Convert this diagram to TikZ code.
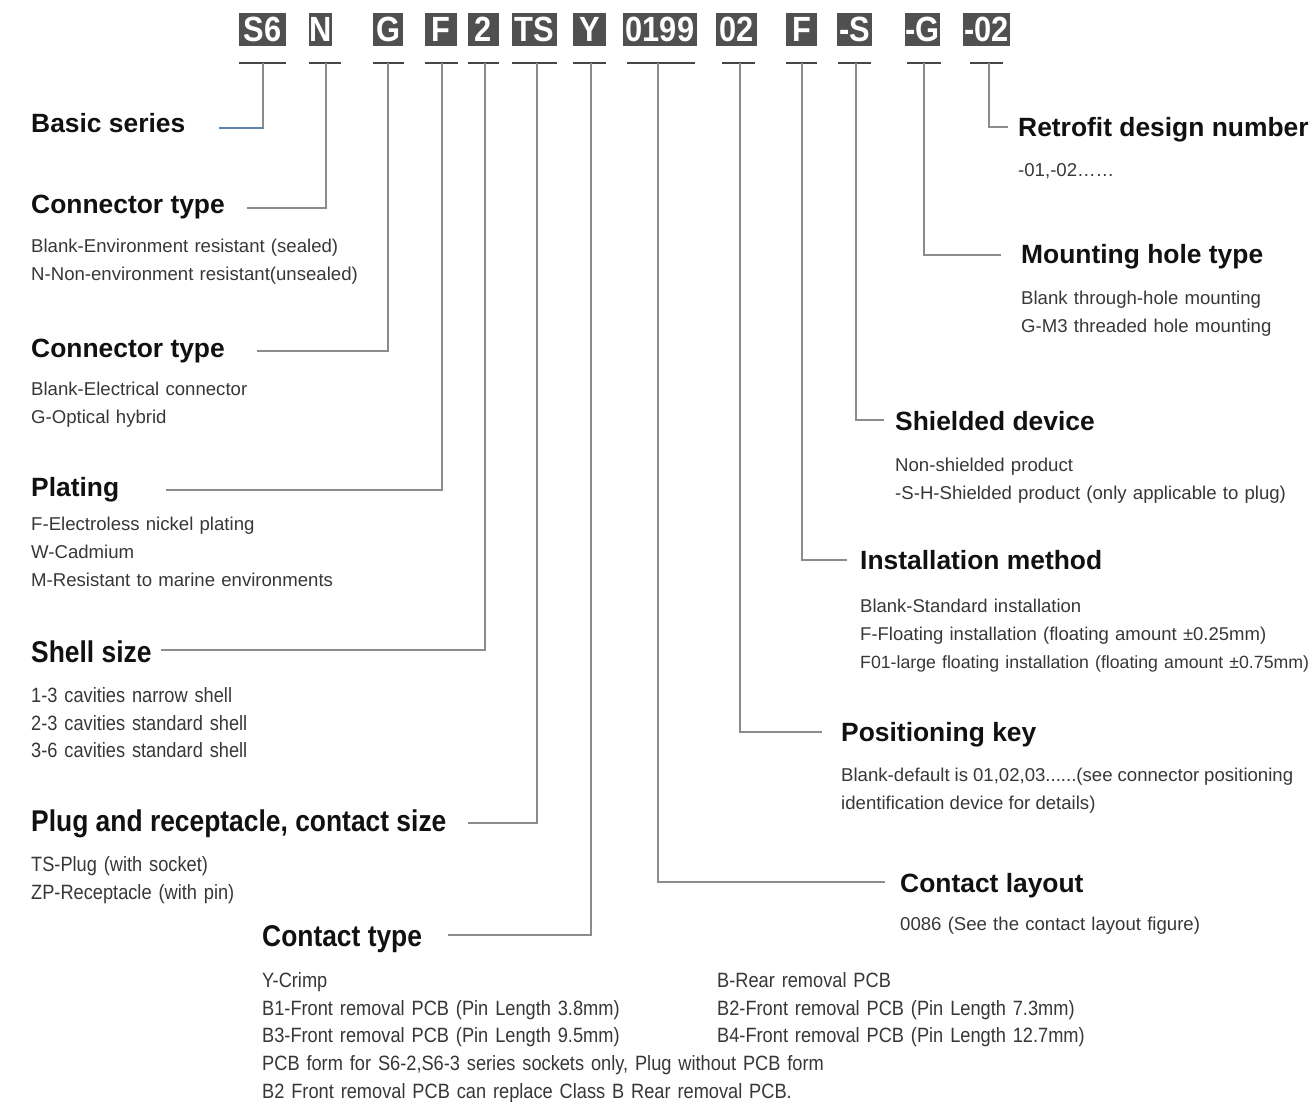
\documentclass[tikz,border=0pt]{standalone}
\usepackage{fontspec}
\setmainfont{Liberation Sans}
\newfontfamily\narrowfont[FakeStretch=0.88]{Liberation Sans}
\usepackage{tikz}
\definecolor{boxgray}{RGB}{80,80,80}
\definecolor{bargray}{RGB}{70,70,70}
\definecolor{leadgray}{RGB}{140,140,140}
\definecolor{leadblue}{RGB}{95,128,180}
\definecolor{headblack}{RGB}{17,17,17}
\definecolor{descgray}{RGB}{55,55,55}
\tikzset{
  codebox/.style={fill=boxgray, text=white, inner sep=0pt, minimum height=33pt,
    font=\narrowfont\bfseries\fontsize{35}{35}\selectfont},
  head/.style={anchor=base west, inner sep=0pt, text=headblack,
    font=\bfseries\fontsize{26.4}{30}\selectfont},
  headn/.style={head, font=\narrowfont\bfseries\fontsize{30}{30}\selectfont},
  desc/.style={anchor=base west, inner sep=0pt, text width=520pt, align=left, text=descgray,
    font=\fontsize{18.6}{28}\selectfont},
  descn/.style={desc, font=\narrowfont\fontsize{20.7}{27.7}\selectfont},
  lead/.style={draw=leadgray, line width=1.4pt},
  bar/.style={draw=bargray, line width=1.4pt}
}

\begin{document}
\begin{tikzpicture}[x=1pt, y=-1pt]
    \useasboundingbox (0,0) rectangle (1315,1102);

    % part number code boxes
    \node[codebox, minimum width=47pt] (s6)   at (262.5,29.5) {S6};
    \node[codebox, minimum width=23pt] (n)    at (320.5,29.5) {N};
    \node[codebox, minimum width=30pt] (g)    at (388,29.5)   {G};
    \node[codebox, minimum width=32pt] (f)    at (441,29.5)   {F};
    \node[codebox, minimum width=31pt] (two)  at (483.5,29.5) {2};
    \node[codebox, minimum width=45pt] (ts)   at (534.5,29.5) {TS};
    \node[codebox, minimum width=33pt] (y)    at (589.5,29.5) {Y};
    \node[codebox, minimum width=74pt] (lay)  at (660,29.5)   {0199};
    \node[codebox, minimum width=41pt] (key)  at (736.5,29.5) {02};
    \node[codebox, minimum width=31pt] (inst) at (801.5,29.5) {F};
    \node[codebox, minimum width=35pt] (shd)  at (854.5,29.5) {-S};
    \node[codebox, minimum width=35pt] (hole) at (922.5,29.5) {-G};
    \node[codebox, minimum width=47pt] (ret)  at (986.5,29.5) {-02};

    % bars under the boxes
    \draw[bar] (239,63) -- (286,63);
    \draw[bar] (309,63) -- (341,63);
    \draw[bar] (373,63) -- (404,63);
    \draw[bar] (425,63) -- (458,63);
    \draw[bar] (468,63) -- (499,63);
    \draw[bar] (512,63) -- (557,63);
    \draw[bar] (573,63) -- (606,63);
    \draw[bar] (627,63) -- (695,63);
    \draw[bar] (722,63) -- (755,63);
    \draw[bar] (786,63) -- (817,63);
    \draw[bar] (838,63) -- (871,63);
    \draw[bar] (907,63) -- (941,63);
    \draw[bar] (970,63) -- (1003,63);

    \coordinate (t-s6)   at (263,63);
    \coordinate (t-n)    at (326,63);
    \coordinate (t-g)    at (388,63);
    \coordinate (t-f)    at (442,63);
    \coordinate (t-two)  at (485,63);
    \coordinate (t-ts)   at (537,63);
    \coordinate (t-y)    at (591,63);
    \coordinate (t-lay)  at (658,63);
    \coordinate (t-key)  at (740,63);
    \coordinate (t-inst) at (802,63);
    \coordinate (t-shd)  at (856,63);
    \coordinate (t-hole) at (924,63);
    \coordinate (t-ret)  at (989,63);

    % left column
    \node[head] (basic) at (31,133) {Basic series};
    \node[head] (ctype) at (31,214) {Connector type};
    \node[desc] (ctyped) at (31,252.5) {Blank-Environment resistant (sealed)\\N-Non-environment resistant(unsealed)};
    \node[head] (cform) at (31,357) {Connector type};
    \node[desc] (cformd) at (31,395.5) {Blank-Electrical connector\\G-Optical hybrid};
    \node[head] (plating) at (31,496) {Plating};
    \node[desc] (platingd) at (31,530.5) {F-Electroless nickel plating\\W-Cadmium\\M-Resistant to marine environments};
    \node[headn] (shell) at (31,662) {Shell size};
    \node[descn] (shelld) at (31,702.5) {1-3 cavities narrow shell\\2-3 cavities standard shell\\3-6 cavities standard shell};
    \node[headn] (plug) at (31,831) {Plug and receptacle, contact size};
    \node[descn] (plugd) at (31,871.5) {TS-Plug (with socket)\\ZP-Receptacle (with pin)};
    \node[headn] (contact) at (262,946) {Contact type};
    \node[descn, text width=800pt] (contactd) at (262,987.5) {Y-Crimp\\B1-Front removal PCB (Pin Length 3.8mm)\\B3-Front removal PCB (Pin Length 9.5mm)\\PCB form for S6-2,S6-3 series sockets only, Plug without PCB form\\B2 Front removal PCB can replace Class B Rear removal PCB.};
    \node[descn] (contacte) at (717,987.5) {B-Rear removal PCB\\B2-Front removal PCB (Pin Length 7.3mm)\\B4-Front removal PCB (Pin Length 12.7mm)};

    % right column
    \node[head] (retro) at (1018,137) {Retrofit design number};
    \node[desc] (retrod) at (1018,176.5) {-01,-02……};
    \node[head] (mount) at (1021,264) {Mounting hole type};
    \node[desc] (mountd) at (1021,304.5) {Blank through-hole mounting\\G-M3 threaded hole mounting};
    \node[head] (shield) at (895,430) {Shielded device};
    \node[desc] (shieldd) at (895,471.5) {Non-shielded product\\-S-H-Shielded product (only applicable to plug)};
    \node[head] (install) at (860,569) {Installation method};
    \node[desc, font=\fontsize{18.5}{28}\selectfont] (installd) at (860,612.5) {Blank-Standard installation\\F-Floating installation (floating amount ±0.25mm)\\{\fontsize{17.7}{28}\selectfont F01-large floating installation (floating amount ±0.75mm)}};
    \node[head] (poskey) at (841,741) {Positioning key};
    \node[desc, text width=452pt, align=justify] (poskeyd) at (841,781.5) {Blank-default is 01,02,03......(see connector positioning\linebreak identification device for details)};
    \node[head] (layout) at (900,892) {Contact layout};
    \node[desc] (layoutd) at (900,930.5) {0086 (See the contact layout figure)};

    % leader ends
    \coordinate (e-s6)   at (219,128);
    \coordinate (e-n)    at (247,208);
    \coordinate (e-g)    at (257,351);
    \coordinate (e-f)    at (166,490);
    \coordinate (e-two)  at (161,650);
    \coordinate (e-ts)   at (468,823);
    \coordinate (e-y)    at (448,935);
    \coordinate (e-lay)  at (885,882);
    \coordinate (e-key)  at (822,732);
    \coordinate (e-inst) at (847,560);
    \coordinate (e-shd)  at (884,420);
    \coordinate (e-hole) at (1001,255);
    \coordinate (e-ret)  at (1008,127);

    % leaders
    \draw[lead] (t-s6) |- (e-s6);
    \draw[lead, draw=leadblue] (263,128) -- (e-s6);
    \draw[lead] (t-n) |- (e-n);
    \draw[lead] (t-g) |- (e-g);
    \draw[lead] (t-f) |- (e-f);
    \draw[lead] (t-two) |- (e-two);
    \draw[lead] (t-ts) |- (e-ts);
    \draw[lead] (t-y) |- (e-y);
    \draw[lead] (t-lay) |- (e-lay);
    \draw[lead] (t-key) |- (e-key);
    \draw[lead] (t-inst) |- (e-inst);
    \draw[lead] (t-shd) |- (e-shd);
    \draw[lead] (t-hole) |- (e-hole);
    \draw[lead] (t-ret) |- (e-ret);
\end{tikzpicture}
\end{document}
